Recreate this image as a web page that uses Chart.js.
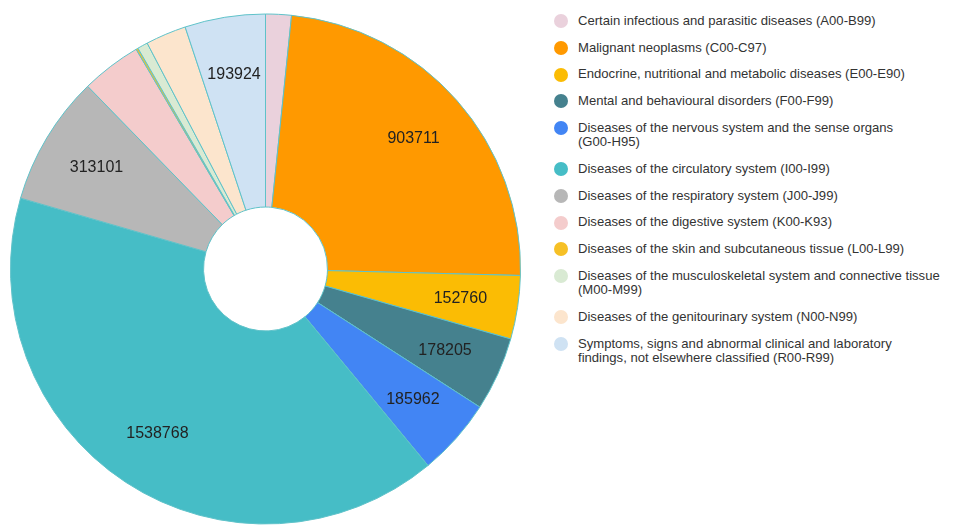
<!DOCTYPE html>
<html>
<head>
<meta charset="utf-8">
<script src="https://cdn.jsdelivr.net/npm/chart.js@4.4.1/dist/chart.umd.min.js"></script>
<style>
  html, body { margin: 0; padding: 0; background: #fff; }
  body { width: 979px; height: 525px; position: relative; overflow: hidden; font-family: "Liberation Sans", Arial, sans-serif; }
  #pie { position: absolute; left: 10px; top: 13px; width: 511px; height: 512px; }
  #legend { position: absolute; left: 554px; top: 14px; margin: 0; padding: 0; list-style: none; }
  #legend li { position: relative; padding-left: 24px; margin-bottom: 12.1px; font-size: 13.1px; line-height: 14.6px; color: #333; white-space: nowrap; }
  #legend li span.dot { position: absolute; left: 0; top: 0.3px; width: 14px; height: 14px; border-radius: 50%; }
</style>
</head>
<body>
<div id="pie"><canvas id="chart"></canvas></div>
<ul id="legend"></ul>
<script>
// ICD-10 chapters, deaths per chapter
const categories = [
  ['Certain infectious and parasitic diseases (A00-B99)'],
  ['Malignant neoplasms (C00-C97)'],
  ['Endocrine, nutritional and metabolic diseases (E00-E90)'],
  ['Mental and behavioural disorders (F00-F99)'],
  ['Diseases of the nervous system and the sense organs', '(G00-H95)'],
  ['Diseases of the circulatory system (I00-I99)'],
  ['Diseases of the respiratory system (J00-J99)'],
  ['Diseases of the digestive system (K00-K93)'],
  ['Diseases of the skin and subcutaneous tissue (L00-L99)'],
  ['Diseases of the musculoskeletal system and connective tissue', '(M00-M99)'],
  ['Diseases of the genitourinary system (N00-N99)'],
  ['Symptoms, signs and abnormal clinical and laboratory', 'findings, not elsewhere classified (R00-R99)'],
];
const deaths = [62000, 903711, 152760, 178205, 185962, 1538768, 313101, 145000, 5000, 25000, 98000, 193924];

const sliceColors = [
  '#ead1dc', '#ff9900', '#fbbc04', '#45818e', '#4285f4', '#46bdc6',
  '#b7b7b7', '#f4cccc', '#f6c026', '#d9ead3', '#fce5cd', '#cfe2f3',
];

// value labels inside the bigger slices
const sliceLabels = {
  id: 'sliceLabels',
  afterDatasetsDraw(chart) {
    const { ctx } = chart;
    const meta = chart.getDatasetMeta(0);
    const values = chart.data.datasets[0].data;
    const total = values.reduce((a, b) => a + b, 0);
    ctx.save();
    ctx.font = '16px "Liberation Sans", Arial, sans-serif';
    ctx.fillStyle = '#222';
    ctx.textAlign = 'center';
    ctx.textBaseline = 'middle';
    meta.data.forEach((arc, i) => {
      if (values[i] / total < 0.04) return;
      const p = arc.getProps(['x', 'y', 'startAngle', 'endAngle', 'innerRadius', 'outerRadius'], true);
      const mid = (p.startAngle + p.endAngle) / 2;
      const r = p.innerRadius + 0.7 * (p.outerRadius - p.innerRadius);
      ctx.fillText(String(values[i]), p.x + Math.cos(mid) * r, p.y + Math.sin(mid) * r);
    });
    ctx.restore();
  },
};

const chart = new Chart(document.getElementById('chart'), {
  type: 'doughnut',
  data: {
    labels: categories,
    datasets: [{
      data: deaths,
      backgroundColor: sliceColors,
      borderColor: '#5fc2c9',
      borderWidth: 1,
    }],
  },
  options: {
    responsive: true,
    maintainAspectRatio: false,
    animation: false,
    cutout: '24.3%',
    layout: { padding: 0 },
    plugins: {
      legend: { display: false },
      tooltip: { enabled: false },
    },
  },
  plugins: [sliceLabels],
});

// legend on the right, one row per chapter
const legend = document.getElementById('legend');
categories.forEach((lines, i) => {
  const li = document.createElement('li');
  const dot = document.createElement('span');
  dot.className = 'dot';
  dot.style.background = sliceColors[i];
  li.appendChild(dot);
  lines.forEach((line, j) => {
    if (j > 0) li.appendChild(document.createElement('br'));
    li.appendChild(document.createTextNode(line));
  });
  legend.appendChild(li);
});
</script>
</body>
</html>
